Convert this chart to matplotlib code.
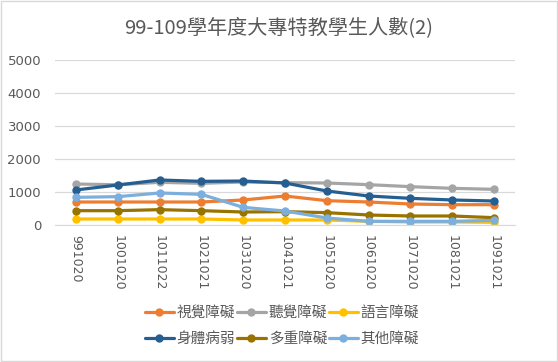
import matplotlib.pyplot as plt
from matplotlib.patches import Rectangle

plt.rcParams['font.family'] = ['Noto Sans CJK TC', 'DejaVu Sans']

years = ['991020', '1001020', '1011022', '1021021', '1031020', '1041021',
         '1051020', '1061020', '1071020', '1081021', '1091021']

visual = [697, 697, 697, 697, 758, 879, 737, 697, 636, 616, 616]
hearing = [1242, 1220, 1293, 1263, 1303, 1283, 1273, 1222, 1162, 1111, 1081]
speech = [182, 182, 182, 182, 152, 152, 152, 111, 91, 91, 81]
physical = [1061, 1212, 1364, 1323, 1333, 1273, 1030, 879, 808, 758, 727]
multiple = [434, 434, 465, 434, 394, 404, 374, 303, 273, 273, 222]
other = [838, 859, 970, 929, 535, 424, 212, 111, 111, 111, 141]

series = [
    ('視覺障礙', visual, '#ED7D31'),
    ('聽覺障礙', hearing, '#A5A5A5'),
    ('語言障礙', speech, '#FFC000'),
    ('身體病弱', physical, '#255E91'),
    ('多重障礙', multiple, '#997300'),
    ('其他障礙', other, '#7CAFDD'),
]

fig = plt.figure(figsize=(5.58, 3.62), dpi=100)
ax = fig.add_axes([55 / 558, 1 - 225 / 362, 460 / 558, 165 / 362])

x = list(range(len(years)))
lines = {}
for name, vals, color in series:
    ln, = ax.plot(x, vals, color=color, lw=2.3, marker='o', ms=5,
                  label=name, solid_capstyle='round')
    lines[name] = ln

ax.set_xlim(-0.5, len(years) - 0.5)
ax.set_ylim(0, 5000)
ax.set_yticks(range(0, 5001, 1000))
ax.yaxis.grid(True, color='#D9D9D9', lw=0.9)
ax.set_axisbelow(True)
for s in ax.spines.values():
    s.set_visible(False)
ax.spines['bottom'].set_visible(True)
ax.spines['bottom'].set_color('#D9D9D9')
ax.tick_params(length=0, colors='#595959', labelsize=9.5)
ax.tick_params(axis='y', pad=10)
ax.tick_params(axis='x', pad=7)
ax.set_xticks(x)
ax.set_xticklabels(years, rotation=270, family='DejaVu Sans', fontsize=9)
for lab in ax.get_yticklabels():
    lab.set_family('DejaVu Sans')

fig.text(0.5, 1 - 28 / 362, '99-109學年度大專特教學生人數(2)', ha='center', va='center',
         fontsize=14.5, color='#595959')

order = ['視覺障礙', '身體病弱', '聽覺障礙', '多重障礙', '語言障礙', '其他障礙']
fig.legend([lines[n] for n in order], order, ncol=3, loc='center',
           bbox_to_anchor=(282 / 558, 1 - 326 / 362), frameon=False,
           fontsize=10.5, handlelength=2.0, columnspacing=0.1, handletextpad=0.2,
           labelcolor='#595959', labelspacing=0.8)

fig.patches.append(Rectangle((0.002, 0.002), 0.996, 0.996, transform=fig.transFigure,
                             fill=False, ec='#D9D9D9', lw=1))

fig.savefig('out.png', dpi=100)
